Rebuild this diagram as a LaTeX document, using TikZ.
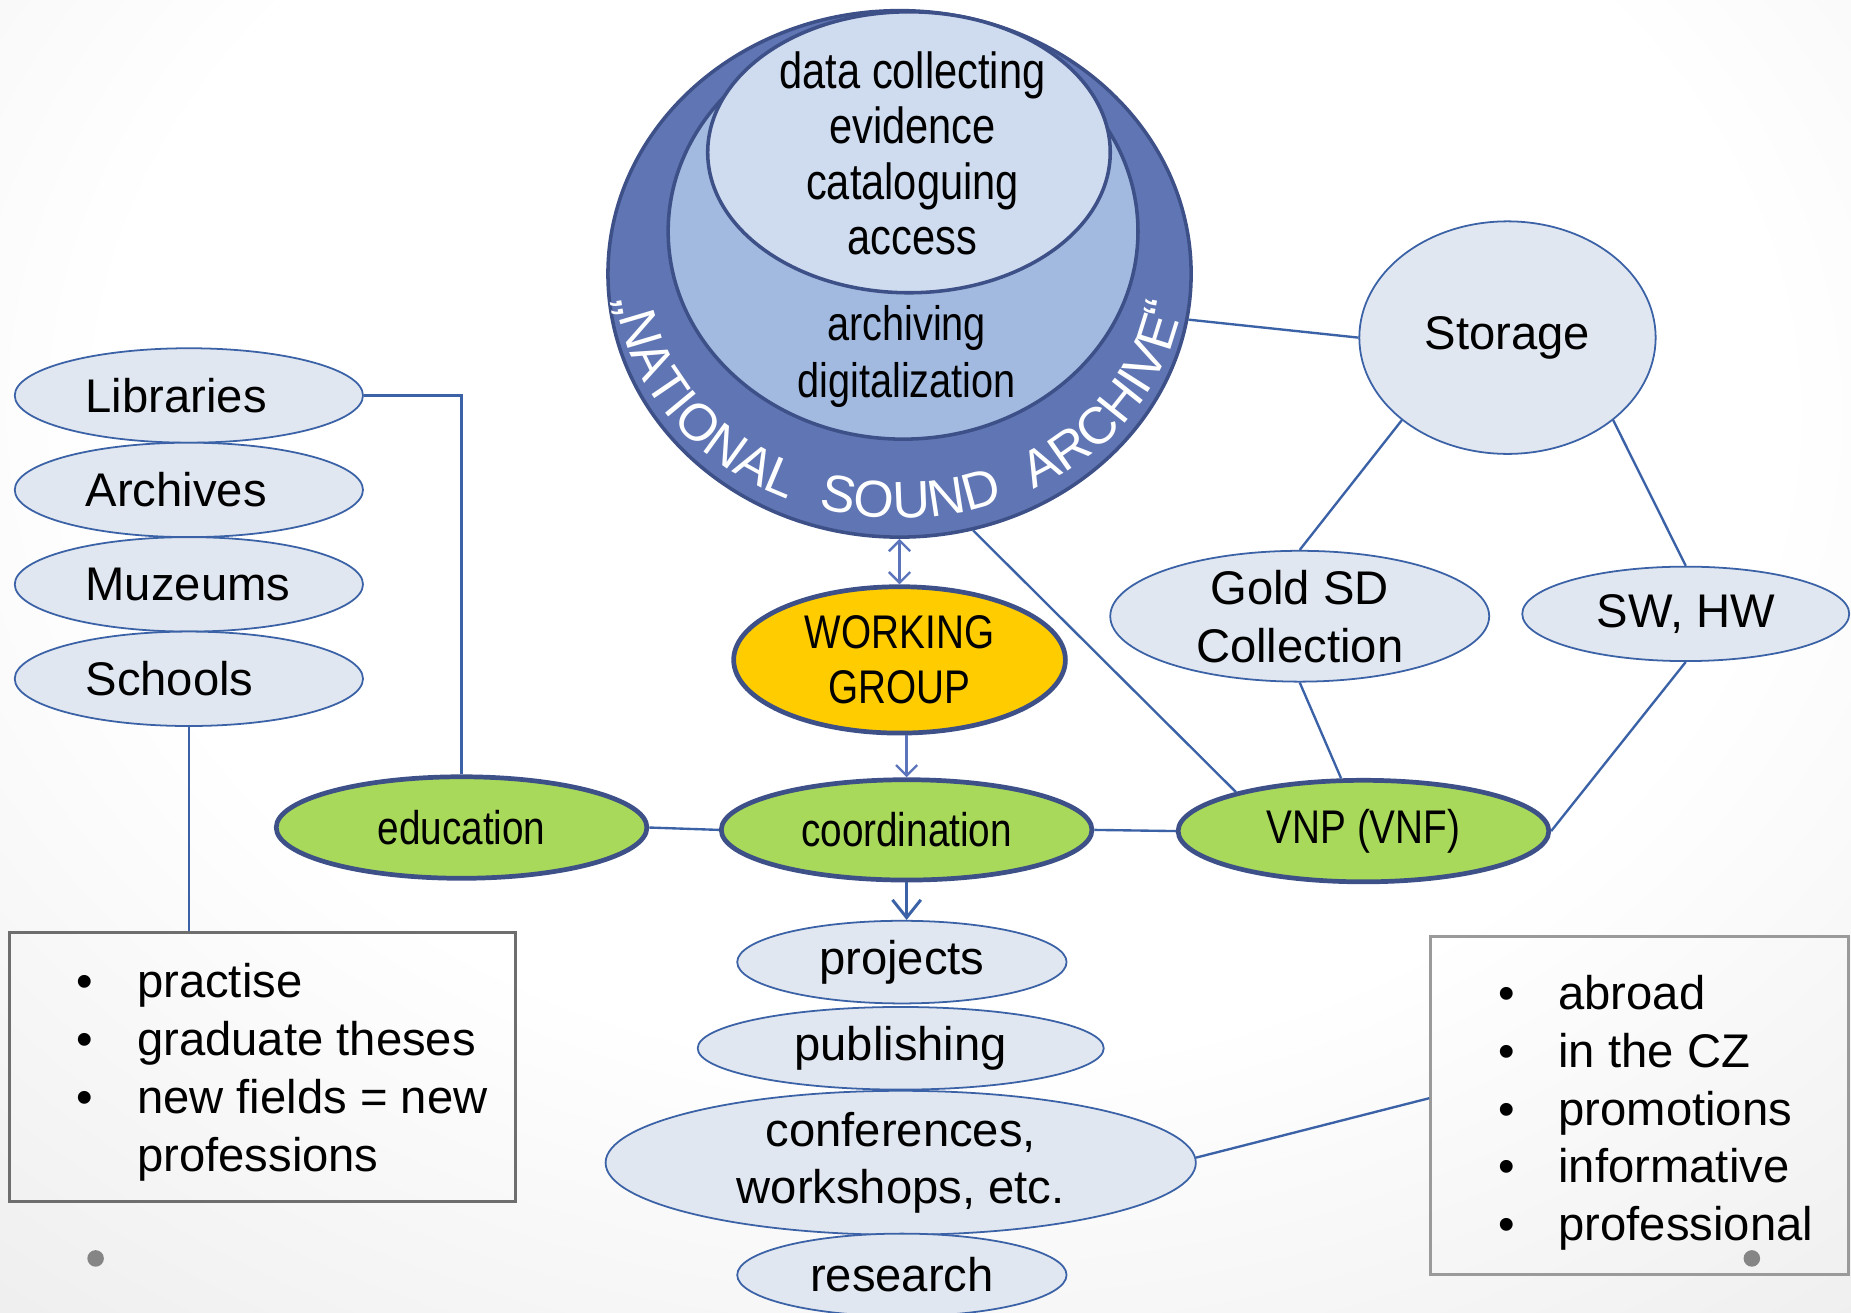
\documentclass[tikz,border=0pt]{standalone}
\usepackage{fontspec}
\setmainfont{Liberation Sans}
\setsansfont{Liberation Sans}
\newfontfamily\narrowfont[FakeStretch=0.82]{Liberation Sans}
\usetikzlibrary{shapes.geometric,arrows.meta,decorations.text,calc}
\definecolor{ringfill}{HTML}{6076B4}
\definecolor{ringdraw}{HTML}{3E5088}
\definecolor{midfill}{HTML}{A2BADF}
\definecolor{innerfill}{HTML}{CFDCEF}
\definecolor{greenfill}{HTML}{A9D95A}
\definecolor{goldfill}{HTML}{FFCC00}
\definecolor{palefill}{HTML}{E1E7F0}
\definecolor{lineblue}{HTML}{3B62A6}
\definecolor{arrowblue}{HTML}{5B74BB}
\definecolor{boxgray}{HTML}{6E6E6E}
\definecolor{boxgraylight}{HTML}{9A9A9A}
\definecolor{dotgray}{HTML}{858585}
\definecolor{bgedge}{HTML}{D4D4D4}
\pgfdeclareradialshading{bgshade}{\pgfpoint{0bp}{0bp}}{color(0bp)=(white); color(18bp)=(white); color(45bp)=(bgedge!72!white); color(66bp)=(bgedge); color(100bp)=(bgedge)}
\tikzset{
  pale/.style={ellipse, draw=lineblue, line width=1.5pt, fill=palefill, inner sep=0pt, font=\fontsize{40}{49}\selectfont, align=center},
  keynode/.style={ellipse, draw=ringdraw, line width=4pt, inner sep=0pt, font=\narrowfont\fontsize{40}{47}\selectfont, align=center},
  ring/.style={ellipse, draw=ringdraw, line width=3pt, inner sep=0pt},
  conn/.style={draw=lineblue, line width=2pt},
  flow/.style={draw=arrowblue, line width=2pt, -{Straight Barb[length=9pt,width=18pt]}},
  listbox/.style={rectangle, line width=2.5pt, inner sep=0pt},
  listline/.style={anchor=base west, inner sep=0pt, font=\fontsize{40}{49}\selectfont},
  graydot/.style={circle, fill=dotgray, minimum size=14pt, inner sep=0pt},
  leftitem/.style={pale, minimum width=295pt, minimum height=80pt, text width=175pt, align=left}
}
\begin{document}
\begin{tikzpicture}[x=1pt,y=-1pt]
\useasboundingbox (0,0) rectangle (1568,1112);
\shade[shading=bgshade] (-184,-412) rectangle (1784,1112);

\coordinate (nsac) at (762,232);

% National sound archive rings
\node[ring, fill=ringfill, minimum width=494pt, minimum height=446pt] (nsa) at (nsac) {};
\node[ring, fill=midfill, minimum width=398pt, minimum height=352pt] (mid) at (765,196) {};
\node[ring, fill=innerfill, minimum width=341pt, minimum height=238pt] (inner) at (770,129) {};
\node[font=\narrowfont\fontsize{43}{47}\selectfont, align=center, inner sep=0pt] (innertxt) at (773,130) {data collecting\\evidence\\cataloguing\\access};
\node[font=\narrowfont\fontsize{41}{48}\selectfont, align=center, inner sep=0pt] (midtxt) at (768,302) {archiving\\digitalization};
\path[decorate, decoration={text along path, text color=white, text align={fit to path stretching spaces},
  text={|\fontsize{44}{44}\selectfont|„NATIONAL SOUND ARCHIVE“}}]
  ($(nsac)+(186:241pt and 207pt)$) arc[start angle=186, end angle=353, x radius=241pt, y radius=207pt];

% right cluster
\node[pale, minimum width=251pt, minimum height=197pt] (storage) at (1277,286) {Storage};
\node[pale, minimum width=321pt, minimum height=108pt] (gold) at (1101,522) {Gold SD\\Collection};
\node[pale, minimum width=277pt, minimum height=80pt] (swhw) at (1428,520) {SW, HW};

% key nodes
\node[keynode, fill=goldfill, minimum width=281pt, minimum height=124pt] (wg) at (762,559) {WORKING\\GROUP};
\node[keynode, fill=greenfill, minimum width=314pt, minimum height=85pt] (coord) at (768,703) {coordination};
\node[keynode, fill=greenfill, minimum width=314pt, minimum height=86pt] (edu) at (391,701) {education};
\node[keynode, fill=greenfill, minimum width=314pt, minimum height=86pt] (vnp) at (1155,704) {VNP (VNF)};

% left list
\node[leftitem] (lib) at (160,335) {Libraries};
\node[leftitem] (arch) at (160,415) {Archives};
\node[leftitem] (muz) at (160,495) {Muzeums};
\node[leftitem] (sch) at (160,575) {Schools};

% central column
\node[pale, minimum width=279pt, minimum height=70pt] (proj) at (764,815) {projects};
\node[pale, minimum width=344pt, minimum height=70pt] (pub) at (763,888) {publishing};
\node[pale, minimum width=500pt, minimum height=120pt] (conf) at (763,985) {conferences,\\workshops, etc.};
\node[pale, minimum width=279pt, minimum height=70pt] (res) at (764,1080) {research};

% boxes
\node[listbox, draw=boxgray, minimum width=429pt, minimum height=228pt] (box1) at (222.5,904) {};
\node[listbox, draw=boxgraylight, minimum width=354pt, minimum height=287pt] (box2) at (1389,936.5) {};

\node[listline] (b1a) at (65,845) {\makebox[51pt][l]{•}practise};
\node[listline] (b1b) at (65,894) {\makebox[51pt][l]{•}graduate theses};
\node[listline] (b1c) at (65,943) {\makebox[51pt][l]{•}new fields = new};
\node[listline] (b1d) at (65,992) {\makebox[51pt][l]{}professions};

\node[listline] (b2a) at (1269,855) {\makebox[51pt][l]{•}abroad};
\node[listline] (b2b) at (1269,904) {\makebox[51pt][l]{•}in the CZ};
\node[listline] (b2c) at (1269,953) {\makebox[51pt][l]{•}promotions};
\node[listline] (b2d) at (1269,1002) {\makebox[51pt][l]{•}informative};
\node[listline] (b2e) at (1269,1051) {\makebox[51pt][l]{•}professional};

% dots
\node[graydot] (dot1) at (81,1066) {};
\node[graydot] (dot2) at (1484,1066) {};

% connectors
\draw[conn] (lib.east) -| (edu.north);
\draw[conn] (sch.south) -- (sch.south |- box1.north);
\draw[conn] (nsa.-9) -- (storage.west);
\draw[conn] (nsa.-74) -- (vnp.163);
\draw[conn] (storage.218) -- (gold.north);
\draw[conn] (storage.-38) -- (swhw.north);
\draw[conn] (gold.south) -- (vnp.113);
\draw[conn] (swhw.south) -- (vnp.east);
\draw[conn] (edu.east) -- (coord.west);
\draw[conn] (coord.east) -- (vnp.west);
\draw[conn] (conf.1.5) -- (box2.178);
\draw[flow, {Straight Barb[length=9pt,width=18pt]}-{Straight Barb[length=9pt,width=18pt]}] (nsa.south) -- (wg.north);
\draw[flow] (coord.north |- wg.south) -- (coord.north);
\draw[flow, draw=lineblue, line width=2.5pt, -{Straight Barb[length=15pt,width=24pt]}] (coord.south) -- (coord.south |- proj.north);
\end{tikzpicture}
\end{document}
